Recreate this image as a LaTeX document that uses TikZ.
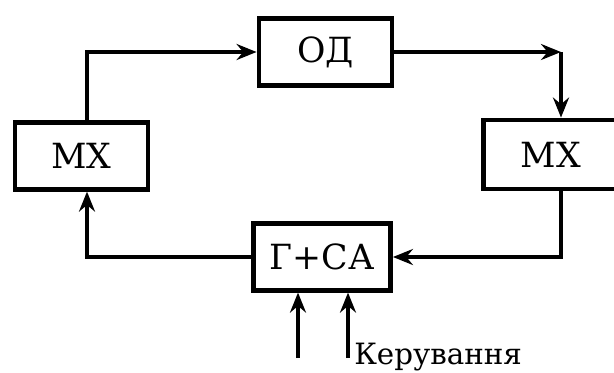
\documentclass[tikz,border=0pt]{standalone}
\usepackage{fontspec}
\setmainfont{DejaVu Serif}
\newfontfamily\blokfont{DejaVu Serif}
\usetikzlibrary{arrows.meta}

\begin{document}
\begin{tikzpicture}[x=0.75pt,y=-0.75pt,
        blok/.style={draw, line width=3.4pt, minimum width=100pt, minimum height=50pt,
            inner sep=0pt, font=\blokfont\fontsize{26}{30}\selectfont},
        lin/.style={line width=3pt},
        strel/.style={lin, -{Stealth[length=15pt,width=12pt,inset=5pt]}}]
                \useasboundingbox (0,0) rectangle (614,372);
                \clip (0,0) rectangle (614,372);

                %%blocks
                \node[blok] (od) at (325.5,52) {ОД};
                \node[blok] (mxl) at (81.5,156) {МХ};
                \node[blok, minimum width=101pt, minimum height=52pt] (mxr) at (551,154.5) {МХ};
                \node[blok, minimum width=103pt] (gsa) at (322,257) {Г+СА};

                %%corners
                \coordinate (kl) at (87,52);
                \coordinate (kr) at (561,52);
                \coordinate (kbr) at (561,257);
                \coordinate (kbl) at (87,257);

                %%top
                \draw[strel]
                    (mxl.north -| kl) -- (kl) -- (od.west);
                \draw[strel]
                    (od.east) -- (kr);
                \draw[strel]
                    (kr) -- (mxr.north -| kr);

                %%bottom
                \draw[strel]
                    (mxr.south -| kbr) -- (kbr) -- (gsa.east);
                \draw[strel]
                    (gsa.west) -- (kbl) -- (mxl.south -| kbl);

                %%control inputs
                \coordinate (u1) at (298,358);
                \coordinate (u2) at (348,358);
                \draw[strel]
                    (u1) -- (gsa.south -| u1);
                \draw[strel]
                    (u2) -- (gsa.south -| u2);
                \node[anchor=base west, inner sep=0pt, font=\blokfont\fontsize{22}{26}\selectfont]
                    (ker) at (354,364) {Керування};
            \end{tikzpicture}
\end{document}
